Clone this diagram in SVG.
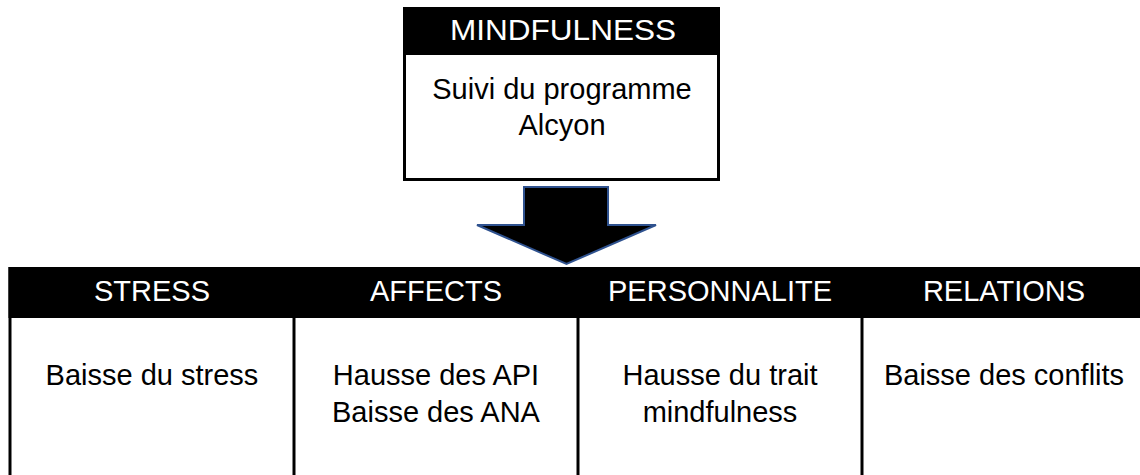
<svg xmlns="http://www.w3.org/2000/svg" width="1140" height="475" viewBox="0 0 1140 475">
<style>
text{font-family:"Liberation Sans",Arial,sans-serif;font-size:29px;text-anchor:middle;}
.hd{fill:#ffffff;}
.bd{fill:#000000;}
.band{fill:#000000;}
.line{stroke:#000000;stroke-width:3;fill:none;}
.arrow{fill:#000000;stroke:#2F528F;stroke-width:2;stroke-linejoin:miter;}
</style>
<rect width="1140" height="475" fill="#ffffff"/>
<g id="node-mindfulness">
<rect x="404.5" y="8.5" width="314" height="171" fill="#ffffff" class="line"/>
<rect x="403" y="7" width="317" height="48" class="band"/>
<text x="563" y="40" class="hd" textLength="226" lengthAdjust="spacingAndGlyphs">MINDFULNESS</text>
<text x="562" y="99" class="bd">Suivi du programme</text>
<text x="562" y="135" class="bd">Alcyon</text>
</g>
<g id="connectors">
<polygon class="arrow" points="524,187 608,187 608,225 656,225 566.5,264 477,225 524,225"/>
</g>
<g id="table">
<rect x="8.5" y="267" width="1131.5" height="51" class="band"/>
<line x1="10" y1="267" x2="10" y2="475" class="line"/>
<line x1="1146" y1="267" x2="1146" y2="475" class="line"/>
</g>
<g id="node-stress">
<text x="152" y="301" class="hd">STRESS</text>
<text x="152" y="385" class="bd">Baisse du stress</text>
<line x1="294" y1="318" x2="294" y2="475" class="line"/>
</g>
<g id="node-affects">
<text x="436" y="301" class="hd">AFFECTS</text>
<text x="436" y="385" class="bd">Hausse des API</text>
<text x="436" y="421.5" class="bd">Baisse des ANA</text>
<line x1="578" y1="318" x2="578" y2="475" class="line"/>
</g>
<g id="node-personnalite">
<text x="720" y="301" class="hd">PERSONNALITE</text>
<text x="720" y="385" class="bd">Hausse du trait</text>
<text x="720" y="421.5" class="bd">mindfulness</text>
<line x1="862" y1="318" x2="862" y2="475" class="line"/>
</g>
<g id="node-relations">
<text x="1004" y="301" class="hd">RELATIONS</text>
<text x="1004" y="385" class="bd">Baisse des conflits</text>
</g>
</svg>
